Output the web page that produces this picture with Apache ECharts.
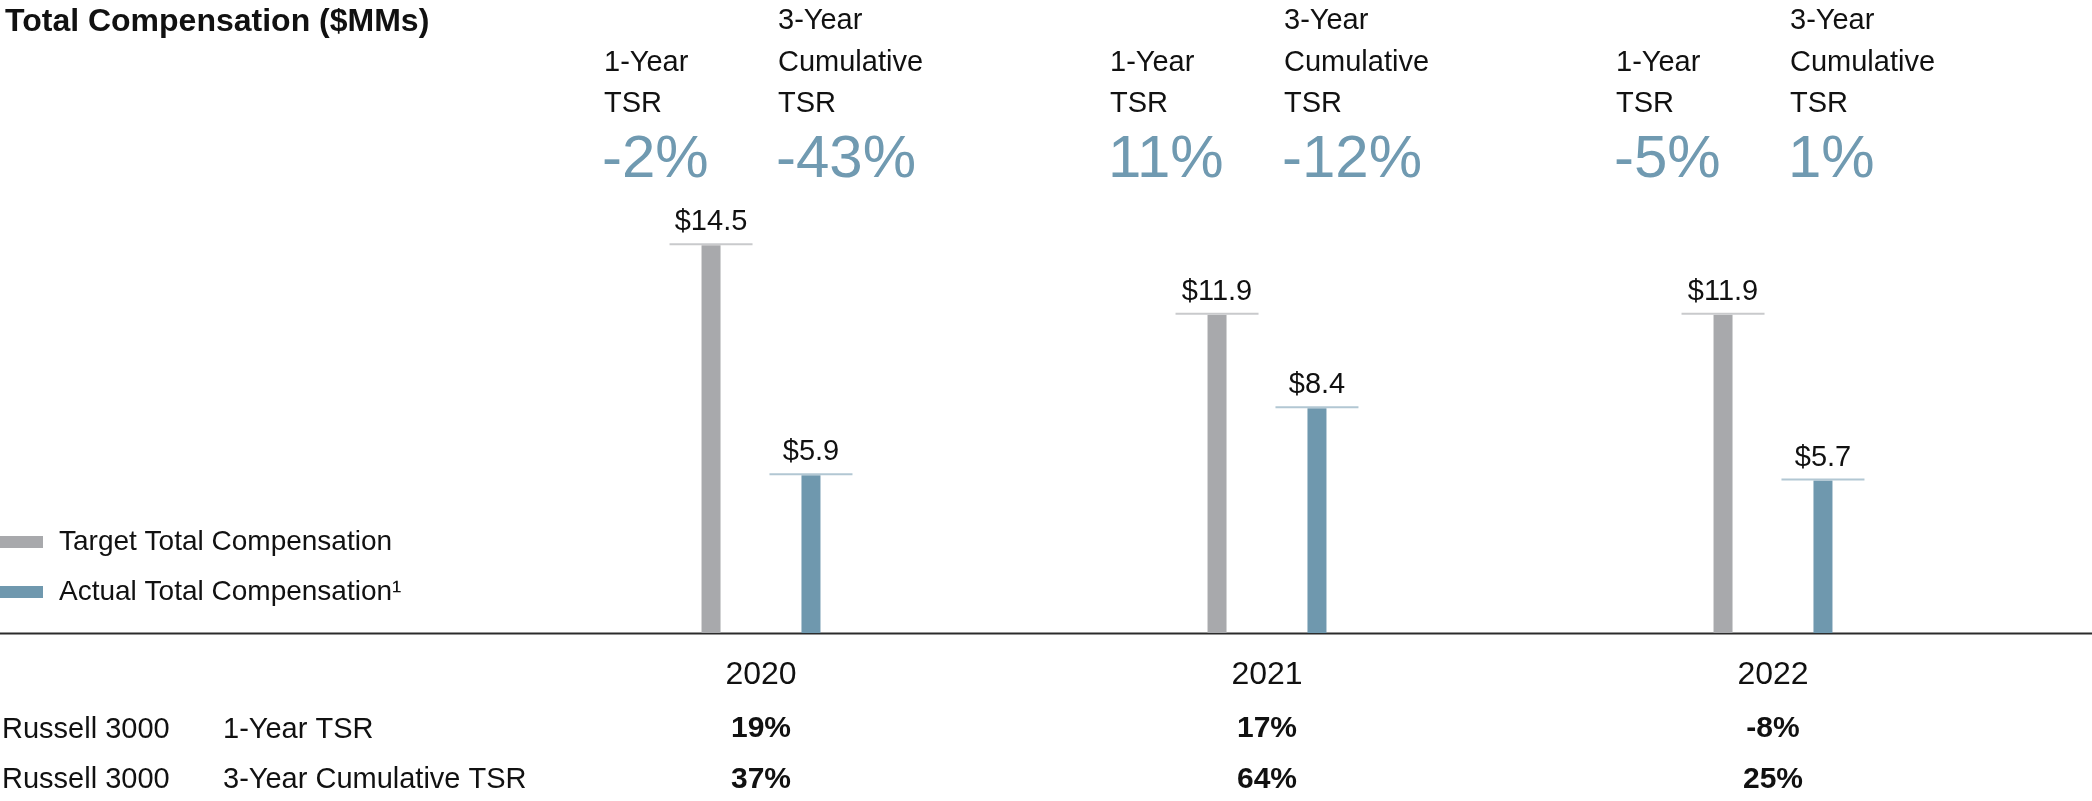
<!DOCTYPE html>
<html>
<head>
<meta charset="utf-8">
<script src="https://cdn.jsdelivr.net/npm/echarts@6/dist/echarts.min.js"></script>
<style>
html,body{margin:0;padding:0;background:#fff;}
#chart{width:2092px;height:801px;}
</style>
</head>
<body>
<div id="chart"></div>
<script>
// ---- data ----
const years = ['2020', '2021', '2022'];
const targetComp = [14.5, 11.9, 11.9];
const actualComp = [5.9, 8.4, 5.7];
const oneYearTSR = ['-2%', '11%', '-5%'];
const threeYearTSR = ['-43%', '-12%', '1%'];
const russellOneYear = ['19%', '17%', '-8%'];
const russellThreeYear = ['37%', '64%', '25%'];
const seriesNames = ['Target Total Compensation', 'Actual Total Compensation\u00b9'];
const rowLabels = [['Russell 3000', '1-Year TSR'], ['Russell 3000', '3-Year Cumulative TSR']];
const titleText = 'Total Compensation ($MMs)';

// ---- styles ----
const FONT = '"Liberation Sans", Arial, Helvetica, sans-serif';
const TXT = '#111111';
const GRAY = '#a8a9ac';
const BLUE = '#6f98ae';
const BIG = '#709ab1';
const GRAY_LINE = '#c9cacc';
const BLUE_LINE = '#b2c7d3';

function barLabel(lineColor) {
  return {
    show: true,
    position: 'top',
    distance: 0,
    formatter: p => '{v|$' + p.value.toFixed(1) + '}\n{l| }',
    rich: {
      v: { fontSize: 29, lineHeight: 42, fontFamily: FONT, color: TXT, align: 'center' },
      l: { width: 83, height: 2, lineHeight: 2, fontSize: 1, backgroundColor: lineColor, align: 'center' }
    }
  };
}

function txt(x, y, text, opts) {
  opts = opts || {};
  return {
    type: 'text', x: x, y: y,
    style: {
      text: text,
      fill: opts.fill || TXT,
      font: (opts.weight || 'normal') + ' ' + (opts.size || 29) + 'px ' + FONT,
      align: opts.align || 'left', textAlign: opts.align || 'left',
      verticalAlign: 'middle', textVerticalAlign: 'middle'
    }
  };
}

const chart = echarts.init(document.getElementById('chart'), null, { renderer: 'canvas' });

const option = {
  animation: false,
  backgroundColor: '#ffffff',
  textStyle: { fontFamily: FONT },
  title: {
    text: titleText, left: 0, top: 1,
    textStyle: { fontSize: 32, fontWeight: 'bold', color: TXT, fontFamily: FONT }
  },
  legend: {
    orient: 'vertical', left: 0, top: 527, padding: 0,
    itemWidth: 43, itemHeight: 12, itemGap: 20, icon: 'rect',
    selectedMode: false,
    textStyle: { fontSize: 28, lineHeight: 30, color: TXT, fontFamily: FONT, padding: [0, 0, 0, 11] },
    data: seriesNames
  },
  grid: { left: 508, right: 66, top: 98, bottom: 168, containLabel: false },
  xAxis: [
    {
      type: 'category', data: years, gridIndex: 0, position: 'bottom',
      axisLine: { show: false }, axisTick: { show: false },
      axisLabel: { fontSize: 32, color: TXT, margin: 42, verticalAlign: 'middle', fontFamily: FONT }
    },
    {
      type: 'category', data: russellOneYear, gridIndex: 0, position: 'bottom', offset: 58,
      axisLine: { show: false }, axisTick: { show: false },
      axisLabel: { fontSize: 30, fontWeight: 'bold', color: TXT, margin: 38, verticalAlign: 'middle', fontFamily: FONT }
    },
    {
      type: 'category', data: russellThreeYear, gridIndex: 0, position: 'bottom', offset: 108,
      axisLine: { show: false }, axisTick: { show: false },
      axisLabel: { fontSize: 30, fontWeight: 'bold', color: TXT, margin: 39, verticalAlign: 'middle', fontFamily: FONT }
    }
  ],
  yAxis: { type: 'value', min: 0, max: 20, show: false, splitLine: { show: false } },
  series: [
    {
      name: seriesNames[0], type: 'bar', data: targetComp,
      barWidth: 19, barGap: '426%',
      itemStyle: { color: GRAY },
      label: barLabel(GRAY_LINE)
    },
    {
      name: seriesNames[1], type: 'bar', data: actualComp,
      barWidth: 19, barGap: '426%',
      itemStyle: { color: BLUE },
      label: barLabel(BLUE_LINE)
    },
    {
      type: 'custom', name: 'tsrHeaders', silent: true, clip: false,
      data: years.map((y, i) => [i, 0]),
      encode: { x: 0, y: 1 },
      renderItem: function (params, api) {
        const i = params.dataIndex;
        const cx = api.coord([api.value(0), 0])[0];
        const x1 = cx - 157;
        const x3 = cx + 17;
        return {
          type: 'group',
          children: [
            txt(x1, 63, '1-Year'),
            txt(x1, 103.5, 'TSR'),
            txt(x1 - 2, 160, oneYearTSR[i], { size: 60, fill: BIG }),
            txt(x3, 21, '3-Year'),
            txt(x3, 63, 'Cumulative'),
            txt(x3, 103.5, 'TSR'),
            txt(x3 - 2, 160, threeYearTSR[i], { size: 60, fill: BIG })
          ]
        };
      }
    }
  ],
  graphic: [
    { type: 'line', shape: { x1: 0, y1: 633.5, x2: 2092, y2: 633.5 }, style: { stroke: '#2b2b2b', lineWidth: 2 } },
    txt(2, 729.5, rowLabels[0][0]),
    txt(223, 729.5, rowLabels[0][1]),
    txt(2, 779.5, rowLabels[1][0]),
    txt(223, 779.5, rowLabels[1][1])
  ]
};

chart.setOption(option);
</script>
</body>
</html>
